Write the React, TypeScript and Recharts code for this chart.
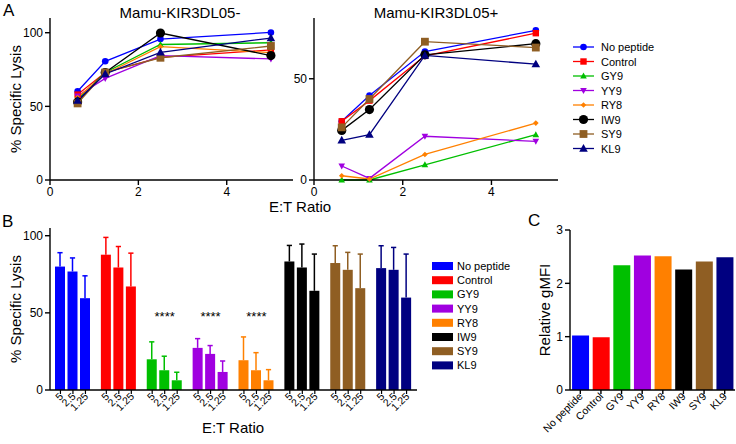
import React from 'react';
import { LineChart, Line, XAxis, YAxis, BarChart, Bar, ComposedChart, LabelList, Cell } from 'recharts';

const FONT = '"Liberation Sans", Arial, sans-serif';

const peptides = ['No peptide', 'Control', 'GY9', 'YY9', 'RY8', 'IW9', 'SY9', 'KL9'];
const colors = ['#0000FF', '#FF0000', '#00BF00', '#A000E0', '#FF8000', '#000000', '#8F5E23', '#000080'];
const markers = ['circle', 'square', 'tri', 'tridown', 'diamond', 'bigcircle', 'bigsquare', 'bigtri'];

// panel A: E:T ratios on x
const ratios = [0.625, 1.25, 2.5, 5];

// % specific lysis, Mamu-KIR3DL05- targets (one row per peptide)
const lysisNeg = [
  [60.3, 80.6, 95.7, 100.2],
  [58, 73, 83.3, 88.3],
  [55, 73, 92, 93.2],
  [57, 69, 84.5, 82.2],
  [56, 72, 90.5, 86.5],
  [53, 73, 99.8, 84.5],
  [52, 73, 83, 91],
  [54, 72, 86.7, 96.4],
];

// % specific lysis, Mamu-KIR3DL05+ targets
const lysisPos = [
  [29, 41.7, 63.4, 73.9],
  [29, 39.2, 61.3, 72.5],
  [0, 0, 7.5, 22.4],
  [6.9, 0.8, 21.6, 19.1],
  [2.1, 0.5, 12.6, 28.1],
  [24.5, 34.8, 61.8, 67.3],
  [26, 40, 68.3, 65.4],
  [19.6, 22.4, 61.5, 57.2],
];

// panel B: mean lysis at 5, 2.5, 1.25 and SD
const ratioLabels = ['5', '2.5', '1.25'];
const mean5 = [80, 87.7, 19.9, 27.3, 19.3, 83.3, 82.3, 79];
const mean25 = [76.8, 79.4, 12.8, 23.4, 12.8, 79.4, 77.9, 77.9];
const mean125 = [59.5, 67.1, 6.3, 11.7, 6.3, 64.3, 66, 59.9];
const sd5 = [9, 11.2, 11.3, 6, 15.1, 10.4, 11.2, 14.5];
const sd25 = [8.8, 13.6, 9.1, 5.4, 11.4, 15.2, 11.3, 14.5];
const sd125 = [14.5, 21.6, 5.2, 7.1, 6.9, 23.8, 22.1, 28.2];
const sigLabels = ['', '', '****', '****', '****', '', '', ''];
const sigLevel = 50;

// panel C
const gmfi = [1.02, 0.99, 2.34, 2.52, 2.51, 2.26, 2.41, 2.49];

const negData = ratios.map((r, i) => {
  const row: any = { r };
  peptides.forEach((_, k) => (row['p' + k] = lysisNeg[k][i]));
  return row;
});
const posData = ratios.map((r, i) => {
  const row: any = { r };
  peptides.forEach((_, k) => (row['p' + k] = lysisPos[k][i]));
  return row;
});
const barData = peptides.map((name, i) => ({
  name,
  m5: mean5[i], m25: mean25[i], m125: mean125[i],
  e5: sd5[i], e25: sd25[i], e125: sd125[i],
  sig: sigLabels[i] || null,
  sigY: sigLabels[i] ? sigLevel : null,
}));
const gmfiData = peptides.map((name, i) => ({ name, v: gmfi[i] }));

const BAR = 10;
const GAP = 2.5;

const Marker = ({ cx, cy, kind, color }: any) => {
  if (cx == null || cy == null) return null;
  switch (kind) {
    case 'circle':
      return <circle cx={cx} cy={cy} r={3.3} fill={color} />;
    case 'square':
      return <rect x={cx - 3.2} y={cy - 3.2} width={6.4} height={6.4} fill={color} />;
    case 'tri':
      return <polygon points={`${cx},${cy - 3.5} ${cx + 3.3},${cy + 2.5} ${cx - 3.3},${cy + 2.5}`} fill={color} />;
    case 'tridown':
      return <polygon points={`${cx},${cy + 3.5} ${cx + 3.3},${cy - 2.5} ${cx - 3.3},${cy - 2.5}`} fill={color} />;
    case 'diamond':
      return <polygon points={`${cx},${cy - 2.8} ${cx + 2.8},${cy} ${cx},${cy + 2.8} ${cx - 2.8},${cy}`} fill={color} />;
    case 'bigcircle':
      return <circle cx={cx} cy={cy} r={4.6} fill={color} />;
    case 'bigsquare':
      return <rect x={cx - 3.9} y={cy - 3.9} width={7.8} height={7.8} fill={color} />;
    case 'bigtri':
      return <polygon points={`${cx},${cy - 4.5} ${cx + 4.3},${cy + 3.2} ${cx - 4.3},${cy + 3.2}`} fill={color} />;
    default:
      return null;
  }
};

const axisStyle = { stroke: '#000', strokeWidth: 1.4 };
const tickStyle = { fill: '#000', fontSize: 12, fontFamily: FONT };

const lysisLines = (prefix: string) =>
  peptides.map((p, k) => (
    <Line
      key={prefix + k}
      type="linear"
      dataKey={'p' + k}
      name={p}
      stroke={colors[k]}
      strokeWidth={1.3}
      isAnimationActive={false}
      dot={(d: any) => <Marker key={prefix + k + '-' + d.index} cx={d.cx} cy={d.cy} kind={markers[k]} color={colors[k]} />}
    />
  ));

const ErrShape = (props: any, mKey: string, eKey: string) => {
  const { x, y, width, height, payload, index } = props;
  const val = payload[mKey];
  const ppu = val ? height / val : 0;
  const top = y - payload[eKey] * ppu;
  const cx = x + width / 2;
  const c = colors[index];
  return (
    <g>
      <rect x={x} y={y} width={width} height={height} fill={c} />
      <line x1={cx} x2={cx} y1={y} y2={top} stroke={c} strokeWidth={1.5} />
      <line x1={cx - 2.6} x2={cx + 2.6} y1={top} y2={top} stroke={c} strokeWidth={1.5} />
    </g>
  );
};

const GroupTick = ({ x, y }: any) => (
  <g>
    {ratioLabels.map((lab, j) => {
      const cx = x + (j - 1) * (BAR + GAP);
      return (
        <g key={j}>
          <line x1={cx} x2={cx} y1={y} y2={y + 4} stroke="#000" strokeWidth={1.2} />
          <text
            transform={`translate(${cx + 3.5},${y + 7}) rotate(-45)`}
            textAnchor="end"
            fontSize={10.5}
            fontFamily={FONT}
            fill="#000"
          >
            {lab}
          </text>
        </g>
      );
    })}
  </g>
);

const NameTick = ({ x, y, payload }: any) => (
  <text
    transform={`translate(${x + 3},${y + 3}) rotate(-45)`}
    textAnchor="end"
    fontSize={10.5}
    fontFamily={FONT}
    fill="#000"
  >
    {payload.value}
  </text>
);

const SigLabel = (p: any) => {
  if (!p.value) return null;
  return (
    <text x={p.x} y={p.y + 8} textAnchor="middle" fontSize={13} fontFamily={FONT} fill="#000">
      {p.value}
    </text>
  );
};

export default function App() {
  return (
    <div style={{ position: 'fixed', left: 0, top: 0, width: 736, height: 444, background: '#fff', fontFamily: FONT }}>
      <div style={{ position: 'absolute', left: 0, top: 0 }}>
        <LineChart width={300} height={200} data={negData} margin={{ top: 18, right: 7, bottom: 0, left: 0 }}>
          <XAxis type="number" dataKey="r" domain={[0, 5.5]} ticks={[0, 2, 4]} height={20}
            axisLine={axisStyle} tickLine={axisStyle} tickSize={5} tick={tickStyle} />
          <YAxis type="number" domain={[0, 110]} ticks={[0, 50, 100]} width={50}
            axisLine={axisStyle} tickLine={axisStyle} tickSize={5} tick={tickStyle} />
          {lysisLines('n')}
        </LineChart>
      </div>
      <div style={{ position: 'absolute', left: 264, top: 0 }}>
        <LineChart width={300} height={200} data={posData} margin={{ top: 18, right: 6, bottom: 0, left: 0 }}>
          <XAxis type="number" dataKey="r" domain={[0, 5.5]} ticks={[0, 2, 4]} height={20}
            axisLine={axisStyle} tickLine={axisStyle} tickSize={5} tick={tickStyle} />
          <YAxis type="number" domain={[0, 80]} ticks={[0, 50]} width={50}
            axisLine={axisStyle} tickLine={axisStyle} tickSize={5} tick={tickStyle} />
          {lysisLines('p')}
        </LineChart>
      </div>
      <div style={{ position: 'absolute', left: 0, top: 210 }}>
        <ComposedChart width={420} height={225} data={barData} barSize={BAR} barGap={GAP}
          margin={{ top: 18, right: 3, bottom: 0, left: 0 }}>
          <XAxis dataKey="name" height={45} interval={0} axisLine={axisStyle} tickLine={false}
            tickSize={0} tickMargin={0} tick={<GroupTick />} />
          <YAxis type="number" domain={[0, 105]} ticks={[0, 50, 100]} width={50}
            axisLine={axisStyle} tickLine={axisStyle} tickSize={5} tick={tickStyle} />
          <Bar dataKey="m5" isAnimationActive={false} shape={(p: any) => ErrShape(p, 'm5', 'e5')} />
          <Bar dataKey="m25" isAnimationActive={false} shape={(p: any) => ErrShape(p, 'm25', 'e25')} />
          <Bar dataKey="m125" isAnimationActive={false} shape={(p: any) => ErrShape(p, 'm125', 'e125')} />
          <Line dataKey="sigY" stroke="none" dot={false} activeDot={false} isAnimationActive={false}>
            <LabelList dataKey="sig" content={SigLabel} />
          </Line>
        </ComposedChart>
      </div>
      <div style={{ position: 'absolute', left: 520, top: 212 }}>
        <BarChart width={216} height={232} data={gmfiData} barCategoryGap="10%"
          margin={{ top: 18, right: 1, bottom: 0, left: 0 }}>
          <XAxis dataKey="name" height={54} interval={0} axisLine={axisStyle} tickLine={axisStyle}
            tickSize={4} tickMargin={0} tick={<NameTick />} />
          <YAxis type="number" domain={[0, 3]} ticks={[0, 1, 2, 3]} width={50}
            axisLine={axisStyle} tickLine={axisStyle} tickSize={5} tick={tickStyle} />
          <Bar dataKey="v" isAnimationActive={false}>
            {gmfiData.map((_, i) => (
              <Cell key={i} fill={colors[i]} />
            ))}
          </Bar>
        </BarChart>
      </div>
      <svg width={736} height={444} style={{ position: 'absolute', left: 0, top: 0, pointerEvents: 'none' }}
        fontFamily={FONT} fill="#000">
        <text x={3} y={16} fontSize={17}>A</text>
        <text x={2} y={227} fontSize={17}>B</text>
        <text x={528} y={226} fontSize={17}>C</text>
        <text x={180} y={18} fontSize={15} textAnchor="middle">Mamu-KIR3DL05-</text>
        <text x={436} y={18} fontSize={15} textAnchor="middle">Mamu-KIR3DL05+</text>
        <text x={300} y={212} fontSize={15} textAnchor="middle">E:T Ratio</text>
        <text x={233} y={433} fontSize={15} textAnchor="middle">E:T Ratio</text>
        <text transform="translate(15,99) rotate(-90)" fontSize={15} textAnchor="middle" dominantBaseline="central">% Specific Lysis</text>
        <text transform="translate(15,309) rotate(-90)" fontSize={15} textAnchor="middle" dominantBaseline="central">% Specific Lysis</text>
        <text transform="translate(544,310) rotate(-90)" fontSize={15} textAnchor="middle" dominantBaseline="central">Relative gMFI</text>
        {peptides.map((p, k) => {
          const yy = 47 + k * 14.5;
          return (
            <g key={'la' + k}>
              <line x1={573} x2={594} y1={yy} y2={yy} stroke={colors[k]} strokeWidth={1.3} />
              <Marker cx={583.5} cy={yy} kind={markers[k]} color={colors[k]} />
              <text x={601} y={yy} fontSize={11} dominantBaseline="central">{p}</text>
            </g>
          );
        })}
        {peptides.map((p, k) => {
          const yy = 266 + k * 14.2;
          return (
            <g key={'lb' + k}>
              <rect x={432} y={yy - 4} width={21} height={8} fill={colors[k]} />
              <text x={457} y={yy} fontSize={11} dominantBaseline="central">{p}</text>
            </g>
          );
        })}
      </svg>
    </div>
  );
}
